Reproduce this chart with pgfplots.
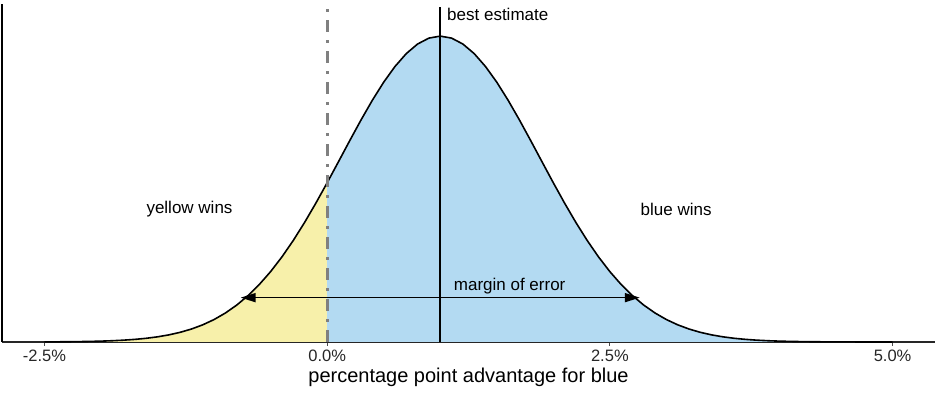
\documentclass[border=0pt]{standalone}
\usepackage{fontspec}
\setmainfont{Liberation Sans}
\usepackage{pgfplots}
\pgfplotsset{compat=1.18}
\usepackage{pgfplotstable}
\usetikzlibrary{arrows.meta,calc}

\definecolor{yfill}{RGB}{247,240,170}
\definecolor{bfill}{RGB}{179,218,242}
\definecolor{ddgray}{RGB}{128,128,128}

\pgfplotstableread{
x y
-2.5 0.00034
-2.4 0.00053
-2.3 0.00082
-2.2 0.00125
-2.1 0.00188
-2.0 0.00280
-1.9 0.00412
-1.8 0.00598
-1.7 0.00856
-1.6 0.01210
-1.5 0.01688
-1.4 0.02325
-1.3 0.03160
-1.2 0.04239
-1.1 0.05613
-1.0 0.07337
-0.9 0.09465
-0.8 0.12052
-0.7 0.15147
-0.6 0.18790
-0.5 0.23007
-0.4 0.27804
-0.3 0.33165
-0.2 0.39047
-0.1 0.45375
0.0 0.52045
}\leftpart

\pgfplotstableread{
x y
0.0 0.52045
0.1 0.58921
0.2 0.65839
0.3 0.72615
0.4 0.79049
0.5 0.84937
0.6 0.90078
0.7 0.94292
0.8 0.97422
0.9 0.99349
1.0 1.00000
1.1 0.99349
1.2 0.97422
1.3 0.94292
1.4 0.90078
1.5 0.84937
1.6 0.79049
1.7 0.72615
1.8 0.65839
1.9 0.58921
2.0 0.52045
2.1 0.45375
2.2 0.39047
2.3 0.33165
2.4 0.27804
2.5 0.23007
2.6 0.18790
2.7 0.15147
2.8 0.12052
2.9 0.09465
3.0 0.07337
3.1 0.05613
3.2 0.04239
3.3 0.03160
3.4 0.02325
3.5 0.01688
3.6 0.01210
3.7 0.00856
3.8 0.00598
3.9 0.00412
4.0 0.00280
4.1 0.00188
4.2 0.00125
4.3 0.00082
4.4 0.00053
4.5 0.00034
4.6 0.00021
4.7 0.00013
4.8 0.00008
4.9 0.00005
5.0 0.00003
}\rightpart

\begin{document}
\begin{tikzpicture}
\begin{axis}[
  scale only axis, width=933bp, height=338bp,
  xmin=-2.875, xmax=5.375, ymin=0, ymax=1.105,
  axis x line=bottom, axis y line=left,
  axis line style={-},
  x axis line style={black!85, line width=1.1bp},
  y axis line style={black, line width=1.3bp},
  ytick=\empty,
  xtick={-2.5,0,2.5,5},
  xticklabels={-2.5\%,0.0\%,2.5\%,5.0\%},
  tick style={black!70, line width=0.9bp},
  major tick length=4bp, tick align=outside,
  xticklabel style={font=\fontsize{16.5bp}{19bp}\selectfont, text=black!85},
  xlabel={percentage point advantage for blue},
  xlabel style={font=\fontsize{20bp}{24bp}\selectfont, text=black},
  clip=false,
]
\addplot[draw=none, fill=yfill] table {\leftpart} \closedcycle;
\addplot[draw=none, fill=bfill] table {\rightpart} \closedcycle;
\addplot[black, line width=1.6bp] table {\leftpart};
\addplot[black, line width=1.6bp] table {\rightpart};
\addplot[ddgray, line width=3bp, dash pattern=on 2.5bp off 8.5bp on 11.5bp off 8.5bp] coordinates {(0,1.088) (0,0)};
\addplot[black, line width=1.6bp] coordinates {(1,0) (1,1.095)};
\addplot[black, line width=1.6bp, {Triangle[length=15bp,width=9bp]}-{Triangle[length=15bp,width=9bp]}] coordinates {(-0.765,0.145) (2.765,0.145)};
\node[anchor=west, font=\fontsize{17bp}{20bp}\selectfont, inner sep=0pt] at (axis cs:1.06,1.072) {best estimate};
\node[font=\fontsize{17bp}{20bp}\selectfont, inner sep=0pt] at (axis cs:-1.217,0.433) {yellow wins};
\node[font=\fontsize{17bp}{20bp}\selectfont, inner sep=0pt] at (axis cs:3.086,0.433) {blue wins};
\node[font=\fontsize{17bp}{20bp}\selectfont, inner sep=0pt] at (axis cs:1.614,0.184) {margin of error};
\end{axis}
\path ($(current axis.south west)+(-2bp,-54bp)$) rectangle ($(current axis.north east)+(1bp,4bp)$);
\end{tikzpicture}
\end{document}
